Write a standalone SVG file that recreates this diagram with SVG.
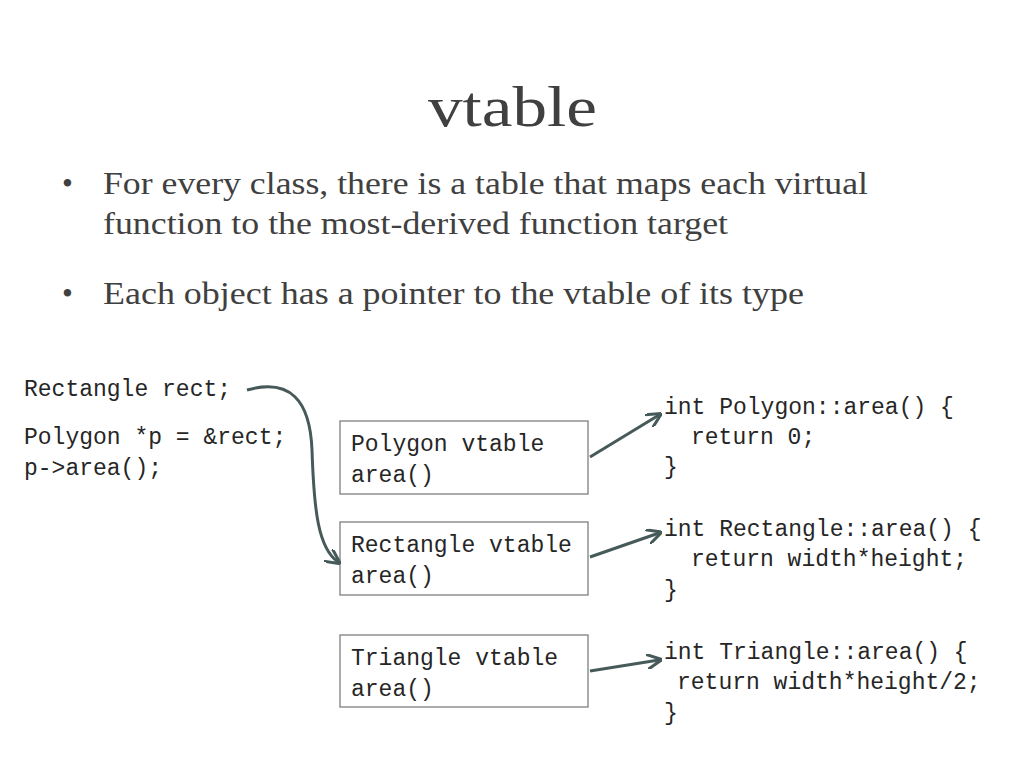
<svg xmlns="http://www.w3.org/2000/svg" width="1024" height="768" viewBox="0 0 1024 768">
<defs>
<style>
.serif{font-family:"Liberation Serif","Times New Roman",serif;fill:#404040}
.mono{font-family:"Liberation Mono","Courier New",monospace;font-size:23px;fill:#262626}
.box{fill:#fff;stroke:#7f7f7f;stroke-width:1.3}
.arr{fill:none;stroke:#465a5a;stroke-width:3;marker-end:url(#ah)}
</style>
<marker id="ah" viewBox="0 0 10 10" refX="8" refY="5" markerWidth="5" markerHeight="5" orient="auto">
<path d="M0,0 L10,5 L0,10" fill="none" stroke="#465a5a" stroke-width="2"/>
</marker>
</defs>
<rect width="1024" height="768" fill="#fff"/>
<text class="serif" x="428" y="126" font-size="58" textLength="169" lengthAdjust="spacingAndGlyphs">vtable</text>
<g class="serif" font-size="31">
<text x="62" y="194">•</text><text x="103" y="194" textLength="765" lengthAdjust="spacingAndGlyphs">For every class, there is a table that maps each virtual</text>
<text x="103" y="234" textLength="625" lengthAdjust="spacingAndGlyphs">function to the most-derived function target</text>
<text x="62" y="304">•</text><text x="103" y="304" textLength="701" lengthAdjust="spacingAndGlyphs">Each object has a pointer to the vtable of its type</text>
</g>
<g id="code" class="mono">
<text x="24" y="396">Rectangle rect;</text>
<text x="24" y="444">Polygon *p = &amp;rect;</text>
<text x="24" y="475">p-&gt;area();</text>
</g>
<g id="polygon"><rect class="box" x="340" y="421" width="248" height="73"/><text class="mono" x="351" y="451">Polygon vtable</text><text class="mono" x="351" y="482">area()</text></g>
<g id="rectangle"><rect class="box" x="340" y="522" width="248" height="73"/><text class="mono" x="351" y="552">Rectangle vtable</text><text class="mono" x="351" y="583">area()</text></g>
<g id="triangle"><rect class="box" x="340" y="635" width="248" height="72"/><text class="mono" x="351" y="665">Triangle vtable</text><text class="mono" x="351" y="696">area()</text></g>
<g id="impls" class="mono">
<text x="664" y="414">int Polygon::area() {</text><text x="691" y="444">return 0;</text><text x="664" y="474">}</text>
<text x="664" y="536">int Rectangle::area() {</text><text x="691" y="566">return width*height;</text><text x="664" y="597">}</text>
<text x="664" y="659">int Triangle::area() {</text><text x="677" y="689">return width*height/2;</text><text x="664" y="720">}</text>
</g>
<g id="connectors">
<path class="arr" d="M247,390 C290,378 310,400 312,450 C314,510 318,548 338,562"/>
<path class="arr" d="M590,457 L659,415"/>
<path class="arr" d="M590,557 L659,533"/>
<path class="arr" d="M590,671 L659,660"/>
</g>
</svg>
